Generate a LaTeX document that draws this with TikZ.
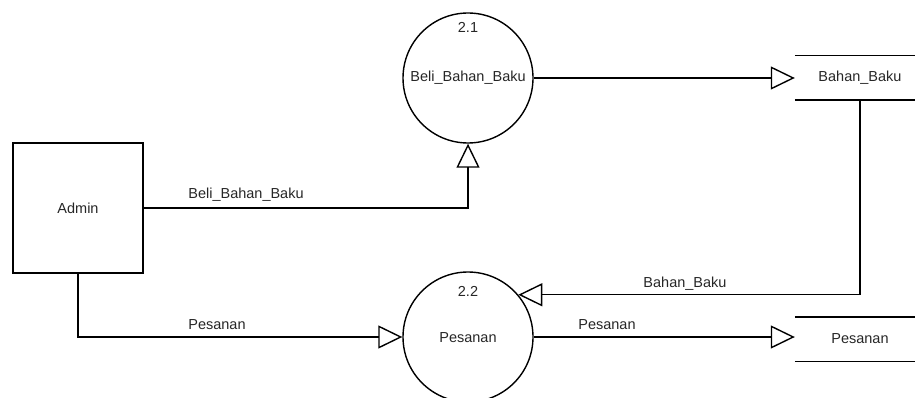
\documentclass[tikz,border=0pt]{standalone}
\usepackage{fontspec}
\setmainfont{Liberation Sans}
\usetikzlibrary{arrows.meta}
\begin{document}
\begin{tikzpicture}[x=1pt,y=-1pt,
  every node/.style={font=\fontsize{14.5}{16}\selectfont, text=black!85},
  proc/.style={circle, draw, line width=1.4pt, minimum size=130pt, inner sep=0pt},
  ent/.style={rectangle, draw, line width=1.4pt, minimum size=130pt, inner sep=0pt},
  store/.style={rectangle, minimum width=130pt, minimum height=44pt, inner sep=0pt},
  flow/.style={line width=1.4pt, -{Triangle[open, length=24pt, width=23pt, line width=1.4pt]}},
  lbl/.style={inner sep=0pt}
]
\useasboundingbox (0,0) rectangle (915,398);
\node[ent] (admin) at (78,208) {Admin};
\node[proc] (p21) at (468,78) {};
\node[lbl] (t21) at (468,78) {Beli\_Bahan\_Baku};
\node[lbl] (n21) at (468,27) {2.1};
\node[proc] (p22) at (468,337) {};
\node[lbl] (t22) at (468,338) {Pesanan};
\node[lbl] (n22) at (468,291) {2.2};
\node[store] (s1) at (860,78) {Bahan\_Baku};
\draw[line width=1.4pt] (s1.north west) -- (s1.north east) (s1.south west) -- (s1.south east);
\node[store] (s2) at (860,339) {Pesanan};
\draw[line width=1.4pt] (s2.north west) -- (s2.north east) (s2.south west) -- (s2.south east);
\draw[flow] (admin.east) -| (p21.south);
\draw[flow] (admin.south) |- (p22.west);
\draw[flow] (p21.east) -- (s1.west |- p21.east);
\draw[flow] (s1.south) |- (p22.40.3);
\draw[flow] (p22.east) -- (s2.west |- p22.east);
\node[lbl] (l1) at (246,195) {Beli\_Bahan\_Baku};
\node[lbl] (l2) at (217,325) {Pesanan};
\node[lbl] (l3) at (607,325) {Pesanan};
\node[lbl] (l4) at (685,284) {Bahan\_Baku};
\end{tikzpicture}
\end{document}
